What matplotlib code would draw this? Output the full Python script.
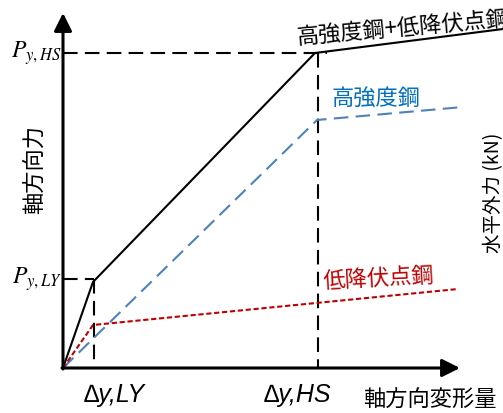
import matplotlib
matplotlib.use("Agg")
import matplotlib.pyplot as plt

plt.rcParams['font.family'] = ['Noto Sans CJK JP', 'DejaVu Sans']
plt.rcParams['mathtext.fontset'] = 'stix'

# schematic load-displacement values (arbitrary units)
disp_combined = [0, 3.0, 25.2, 44.0]
force_combined = [0, 8.6, 31.5, 33.9]
disp_hs = [0, 25.4, 40.0]
force_hs = [0, 24.8, 26.1]
disp_ly = [0, 3.0, 39.5]
force_ly = [0, 4.3, 7.9]

dy_ly, dy_hs = 3.1, 25.5
py_ly, py_hs = 8.9, 31.5

label_combined = '高強度鋼+低降伏点鋼'
label_hs = '高強度鋼'
label_ly = '低降伏点鋼'

fig = plt.figure(figsize=(5.03, 4.13), dpi=100)
ax = fig.add_axes([0, 0, 1, 1])
ax.set_xlim(-6.3, 44.0)
ax.set_ylim(-4.5, 36.8)
ax.axis('off')

# axes with arrow heads
arrow = dict(arrowstyle='-|>', lw=2.2, color='k', mutation_scale=27, shrinkA=0, shrinkB=0)
ax.annotate('', xy=(0, 35.5), xytext=(0, -0.1), arrowprops=arrow)
ax.annotate('', xy=(39.7, 0), xytext=(-0.1, 0), arrowprops=arrow)

# yield guide lines
ax.plot([0, dy_hs + 0.9], [py_hs, py_hs], 'k', lw=1.5, dashes=(7, 3.5))
ax.plot([dy_hs, dy_hs], [py_hs, 0], 'k', lw=1.5, dashes=(7, 3.5))
ax.plot([0, dy_ly], [py_ly, py_ly], 'k', lw=1.5, dashes=(7, 3.5))
ax.plot([dy_ly, dy_ly], [py_ly, 0.6], 'k', lw=1.5, dashes=(7, 3.5))

# curves
ax.plot(disp_combined, force_combined, color='k', lw=1.5)
ax.plot(disp_hs, force_hs, color='#4f81bd', lw=1.5, dashes=(7, 3.5))
ax.plot(disp_ly, force_ly, color='#c00000', lw=1.5, dashes=(2.5, 1.3))

# labels
ax.text(23.4, 32.3, label_combined, fontsize=16, rotation=5,
        rotation_mode='anchor', ha='left', va='baseline')
ax.text(26.9, 27.0, label_hs, fontsize=16, color='#0070c0', ha='left', va='center')
ax.text(26.0, 8.6, label_ly, fontsize=16, color='#c00000', ha='left', va='center',
        rotation=3, rotation_mode='anchor')

ax.text(-0.1, py_hs, r'$P_{y,HS}$', fontsize=17, ha='right', va='center')
ax.text(-0.1, py_ly, r'$P_{y,LY}$', fontsize=17, ha='right', va='center')
ax.text(dy_ly + 2.0, -2.7, '∆y,LY', fontsize=18, family='Liberation Sans',
        style='italic', ha='center', va='center')
ax.text(dy_hs - 2.1, -2.7, '∆y,HS', fontsize=18, family='Liberation Sans',
        style='italic', ha='center', va='center')

ax.text(36.7, -3.2, '軸方向変形量', fontsize=16, ha='center', va='center')
ax.text(-2.8, 19.8, '軸方向力', fontsize=16, rotation=90, ha='center', va='center')
ax.text(43.1, 17.5, '水平外力 (kN)', fontsize=14, rotation=90, ha='center', va='center')

fig.savefig('out.png', dpi=100)
